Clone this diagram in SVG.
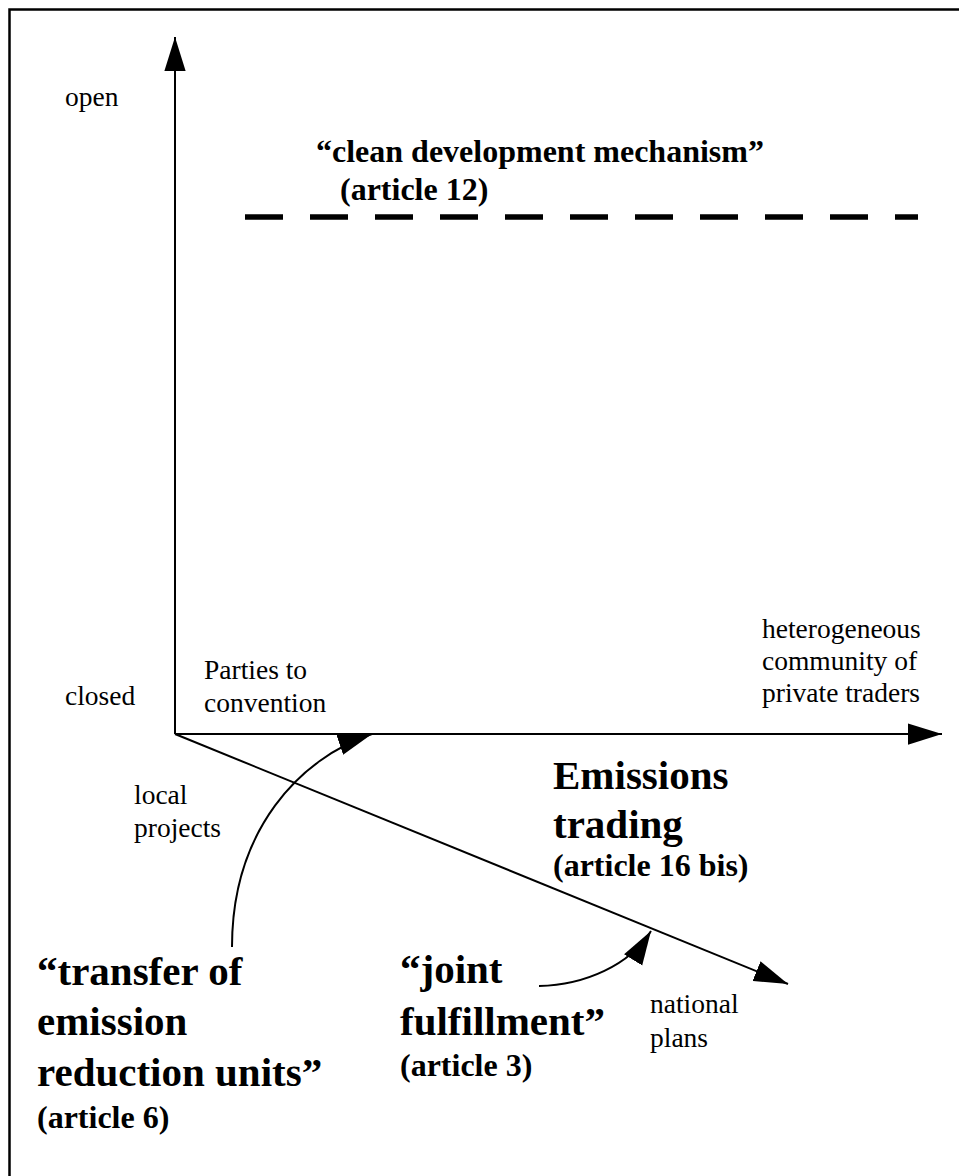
<svg xmlns="http://www.w3.org/2000/svg" width="959" height="1176" viewBox="0 0 959 1176">
<defs>
<style>
.t{font-family:"Liberation Serif","Times New Roman",serif;font-size:27.5px;fill:#000}
.b{font-family:"Liberation Serif","Times New Roman",serif;font-weight:bold;font-size:41px;fill:#000}
.a{font-family:"Liberation Serif","Times New Roman",serif;font-weight:bold;font-size:32px;fill:#000}
.ln{stroke:#000;stroke-width:2;fill:none}
</style>
<marker id="ah" markerUnits="userSpaceOnUse" markerWidth="34" markerHeight="22" viewBox="0 0 32 20" refX="32" refY="10" orient="auto">
<path d="M0,0 L32,10 L0,20 z" fill="#000"/>
</marker>
</defs>
<rect x="0" y="0" width="959" height="1176" fill="#fff"/>
<rect x="9.5" y="9.5" width="970" height="1190" fill="none" stroke="#000" stroke-width="2.5"/>
<g id="connectors">
<line id="y-axis" class="ln" x1="175" y1="734" x2="175" y2="37" marker-end="url(#ah)"/>
<line id="x-axis" class="ln" x1="175" y1="734" x2="942" y2="734" marker-end="url(#ah)"/>
<line id="z-axis" class="ln" x1="175" y1="734" x2="788" y2="984" marker-end="url(#ah)"/>
<line id="cdm-line" x1="245" y1="217" x2="918" y2="217" stroke="#000" stroke-width="5.5" stroke-dasharray="38 27"/>
<path id="transfer-arrow" class="ln" d="M232,947 C232,830 300,758 372,734" marker-end="url(#ah)"/>
<path id="joint-arrow" class="ln" d="M539,986 C585,985 630,965 651,931" marker-end="url(#ah)"/>
</g>
<g id="open"><text class="t" x="65" y="106">open</text></g>
<g id="closed"><text class="t" x="65" y="705">closed</text></g>
<g id="cdm">
<text class="a" x="316" y="162">“clean development mechanism”</text>
<text class="a" x="340" y="200">(article 12)</text>
</g>
<g id="parties"><text class="t" x="204" y="679">Parties to</text><text class="t" x="204" y="712">convention</text></g>
<g id="heterogeneous"><text class="t" x="762" y="638">heterogeneous</text><text class="t" x="762" y="670">community of</text><text class="t" x="762" y="702">private traders</text></g>
<g id="local"><text class="t" x="134" y="804">local</text><text class="t" x="134" y="837">projects</text></g>
<g id="emissions">
<text class="b" x="553" y="789">Emissions</text>
<text class="b" x="553" y="838">trading</text>
<text class="a" x="553" y="876">(article 16 bis)</text>
</g>
<g id="transfer">
<text class="b" x="37" y="985">“transfer of</text>
<text class="b" x="37" y="1035">emission</text>
<text class="b" x="37" y="1086">reduction units”</text>
<text class="a" x="37" y="1128">(article 6)</text>
</g>
<g id="joint">
<text class="b" x="400" y="983">“joint</text>
<text class="b" x="400" y="1035">fulfillment”</text>
<text class="a" x="400" y="1076">(article 3)</text>
</g>
<g id="national"><text class="t" x="650" y="1013">national</text><text class="t" x="650" y="1047">plans</text></g>
</svg>
